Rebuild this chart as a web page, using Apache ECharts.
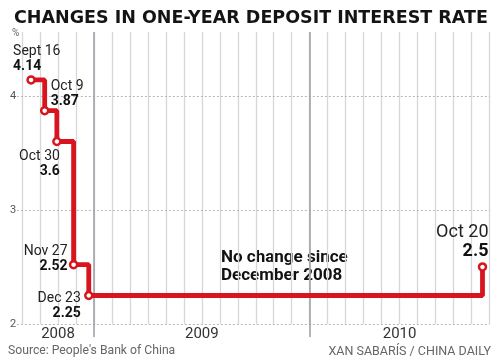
<!DOCTYPE html>
<html><head><meta charset="utf-8">
<script src="https://cdn.jsdelivr.net/npm/echarts@6/dist/echarts.min.js"></script>
<style>html,body{margin:0;padding:0;background:#fff}#c{width:500px;height:363px}</style>
</head><body><div id="c"></div>
<script>
// ---- data ----
const dates = ['2008-09-16','2008-10-09','2008-10-30','2008-11-27','2008-12-23','2010-10-20'];
const dateLabels = ['Sept 16','Oct 9','Oct 30','Nov 27','Dec 23','Oct 20'];
const rates = [4.14, 3.87, 3.6, 2.52, 2.25, 2.5];
const yTicks = [2, 3, 4];
const years = ['2008', '2009', '2010'];
const yearBounds = ['2008-09-01', '2009-01-01', '2010-01-01', '2010-11-01'];
const yearLines = ['2009-01-01', '2010-01-01'];
const note = 'No change since\nDecember 2008';

// ---- helpers ----
function toMonth(s){
  const p = s.split('-').map(Number);
  const dim = new Date(p[0], p[1], 0).getDate();
  return (p[0]-2008)*12 + (p[1]-1) + (p[2]-1)/dim;
}
const X_MIN = 7, X_MAX = 34;          // Aug 2008 .. Nov 2010 (months since Jan 2008)
const gridStartDate = '2008-08-23';

const RED = '#d8141e';
const FONT = 'Roboto';

// label placements (style only)
const placements = [
  {align:'left',  verticalAlign:'bottom', offset:[-18,-6]},
  {align:'left',  verticalAlign:'bottom', offset:[6,-2]},
  {align:'right', verticalAlign:'top',    offset:[3,7]},
  {align:'right', verticalAlign:'bottom', offset:[-6,9]},
  {align:'right', verticalAlign:'top',    offset:[-8,-4]},
  {align:'right', verticalAlign:'bottom', offset:[6,-6], big:true}
];

const seriesData = dates.map((d,i)=>{
  const pl = placements[i];
  return {
    value:[toMonth(d), rates[i]],
    label:{
      show:true, position:'inside', align:pl.align, verticalAlign:pl.verticalAlign, offset:pl.offset,
      formatter: (pl.big ? '{db|' : '{d|') + dateLabels[i] + '}\n' + (pl.big ? '{vb|' : '{v|') + rates[i] + '}',
      rich:{
        d:{fontFamily:FONT, fontSize:14, color:'#222', lineHeight:15},
        v:{fontFamily:FONT, fontSize:14, fontWeight:'bold', color:'#111', lineHeight:15},
        db:{fontFamily:FONT, fontSize:18, color:'#222', lineHeight:19},
        vb:{fontFamily:FONT, fontSize:18, fontWeight:'bold', color:'#111', lineHeight:19}
      }
    }
  };
});

const chart = echarts.init(document.getElementById('c'), null, {renderer:'canvas'});
chart.setOption({
  animation:false,
  backgroundColor:'#fff',
  title:{
    text:'CHANGES IN ONE-YEAR DEPOSIT INTEREST RATE',
    left:9, top:4,
    textStyle:{fontFamily:'DejaVu Sans', fontSize:17.5, fontWeight:'bold', color:'#141414'}
  },
  grid:[
    {left:4.1, right:10.55, top:32, bottom:39},
    {left:4.1, right:10.55, top:32, bottom:26}
  ],
  xAxis:[
    {type:'value', gridIndex:0, min:X_MIN, max:X_MAX, interval:1,
     axisLabel:{show:false}, axisLine:{show:false}, axisTick:{show:false},
     splitLine:{show:true, showMinLine:false, lineStyle:{color:'#d6d7d9', width:1.3}}},
    {type:'value', gridIndex:1, min:X_MIN, max:X_MAX, show:false}
  ],
  yAxis:[
    {type:'value', gridIndex:0, min:2, max:4.56, interval:1,
     axisLine:{show:false}, axisTick:{show:false}, splitLine:{show:false},
     axisLabel:{inside:true, margin:6, fontFamily:FONT, fontSize:11, color:'#555',
       formatter:v => Number.isInteger(v) ? String(v) : ''}},
    {type:'value', gridIndex:1, min:0, max:1, show:false}
  ],
  graphic:[
    {type:'text', left:12, top:28, style:{text:'%', fontFamily:FONT, fontSize:10, fill:'#666'}},
    {type:'text', left:221, top:249, style:{text:note, fontFamily:FONT, fontSize:17, fontWeight:'bold', fill:'#111', lineHeight:17.5}},
    {type:'text', left:8, top:345, style:{text:"Source: People's Bank of China", fontFamily:FONT, fontSize:12.2, fill:'#666'}},
    {type:'text', right:9, top:345, style:{text:'XAN SABARÍS / CHINA DAILY', fontFamily:FONT, fontSize:12.5, fill:'#666'}}
  ],
  series:[
    { // horizontal dotted gridlines + year labels
      type:'line', xAxisIndex:0, yAxisIndex:0, data:[], silent:true,
      markLine:{
        silent:true, symbol:['none','none'], label:{show:false},
        lineStyle:{color:'#b8b8b8', type:[2,2], width:1},
        data: yTicks.map(v => [{coord:[toMonth(gridStartDate), v]}, {coord:[X_MAX, v]}])
      },
      markArea:{
        silent:true, itemStyle:{color:'rgba(0,0,0,0)'},
        label:{position:'bottom', distance:3, fontFamily:FONT, fontSize:15, color:'#333'},
        data: years.map((y,i)=>[{xAxis:toMonth(yearBounds[i]), name:y}, {xAxis:toMonth(yearBounds[i+1])}])
      }
    },
    { // darker year boundary lines
      type:'line', xAxisIndex:1, yAxisIndex:1, data:[], silent:true,
      markLine:{
        silent:true, symbol:['none','none'], label:{show:false},
        lineStyle:{color:'#9ea3a8', type:'solid', width:1.6},
        data: yearLines.map(d => ({xAxis:toMonth(d)}))
      }
    },
    {
      type:'line', xAxisIndex:0, yAxisIndex:0, step:'end', z:5,
      data: seriesData,
      symbol:'circle', symbolSize:7,
      itemStyle:{color:'#fff', borderColor:RED, borderWidth:2.5},
      lineStyle:{color:RED, width:4.8}
    }
  ]
});
</script></body></html>
